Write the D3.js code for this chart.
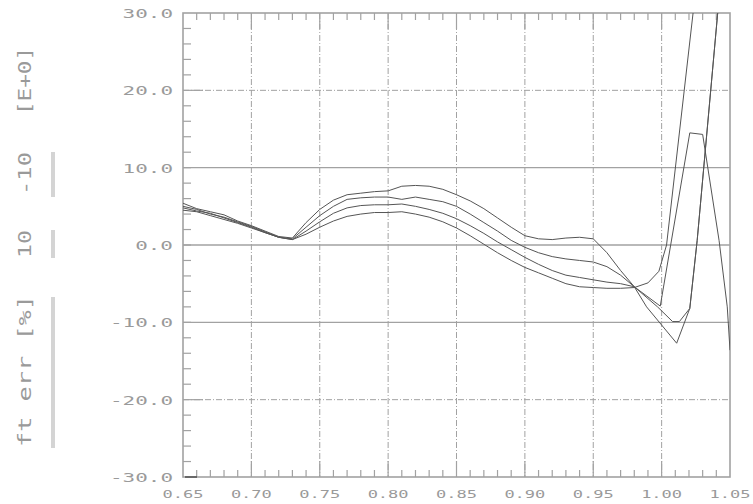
<!DOCTYPE html>
<html><head><meta charset="utf-8">
<script src="https://cdn.jsdelivr.net/npm/d3@7"></script>
<style>body{margin:0;background:#fff}</style>
</head><body><svg id="c" width="753" height="504"></svg>
<script>
// ---------- data ----------
const xTicks = [0.65, 0.70, 0.75, 0.80, 0.85, 0.90, 0.95, 1.00, 1.05];
const xTickLabels = ["0.65", "0.70", "0.75", "0.80", "0.85", "0.90", "0.95", "1.00", "1.05"];
const yTicks = [30, 20, 10, 0, -10, -20, -30];
const yTickLabels = ["30.0", "20.0", "10.0", "0.0", "-10.0", "-20.0", "-30.0"];
const titleParts = ["ft err [%]", "10", "-10", "[E+0]"];

const xs = [0.65,0.66,0.67,0.68,0.69,0.70,0.71,0.72,0.73,0.74,0.75,0.76,0.77,0.78,0.79,0.80,
            0.81,0.82,0.83,0.84,0.85,0.86,0.87,0.88,0.89,0.90,0.91,0.92,0.93,0.94,0.95,0.96,0.97,0.98];
const s1 = [5.4,4.7,4.3,3.9,3.1,2.5,1.8,1.1,0.9,2.9,4.6,5.8,6.5,6.7,6.9,7.0,
            7.6,7.7,7.6,7.2,6.5,5.7,4.7,3.5,2.3,1.2,0.8,0.7,0.9,1.0,0.8,-1.0,-3.3,-5.4];
const s2 = [5.0,4.6,4.0,3.6,3.0,2.4,1.7,1.0,0.8,2.3,3.8,5.0,5.9,6.1,6.2,6.2,
            5.9,6.2,5.9,5.6,5.0,4.0,2.9,1.8,0.6,-0.3,-1.0,-1.5,-1.8,-2.0,-2.2,-2.8,-3.9,-5.4];
const s3 = [4.8,4.4,4.1,3.5,2.9,2.3,1.6,1.0,0.7,1.8,3.0,4.1,4.8,5.1,5.2,5.2,
            5.3,5.0,4.6,4.1,3.4,2.5,1.5,0.4,-0.6,-1.6,-2.5,-3.3,-3.9,-4.2,-4.5,-4.8,-5.0,-5.4];
const s4 = [4.5,4.3,3.8,3.3,2.8,2.2,1.6,1.0,0.7,1.4,2.3,3.1,3.7,4.0,4.2,4.2,
            4.3,4.0,3.6,3.0,2.2,1.2,0.1,-1.0,-2.0,-2.9,-3.6,-4.3,-5.0,-5.4,-5.5,-5.6,-5.6,-5.5];
const s1tail = [[0.989,-8.0],[1.011,-12.7],[1.0206,-8.2],[1.026,0.6],[1.041,30],[1.045,36]];
const s2tail = [[0.997,-8.0],[1.008,-9.9],[1.013,-9.9],[1.0206,-8.2],[1.026,0.6],[1.041,30],[1.045,36]];
const s3tail = [[0.999,-7.9],[1.0206,14.5],[1.030,14.3],[1.042,0.6],[1.048,-8.0],[1.05,-13.6]];
const s4tail = [[0.99,-4.9],[0.998,-3.4],[1.0036,0.0],[1.023,30],[1.026,35]];

// ---------- layout ----------
const svg = d3.select("#c");
const L = 183, R = 730, T = 13, B = 477;
const x = d3.scaleLinear().domain([0.65, 1.05]).range([L, R]);
const y = d3.scaleLinear().domain([-30, 30]).range([B, T]);
const gridCol = "#a2a2a2", textCol = "#9a9a9a";

svg.append("rect").attr("width", 753).attr("height", 504).attr("fill", "#fff");
svg.append("defs").append("clipPath").attr("id", "clip")
  .append("rect").attr("x", L).attr("y", T).attr("width", R - L).attr("height", B - T);

const g = svg.append("g");
// vertical dashed grid
xTicks.slice(1, -1).forEach(v => {
  g.append("line").attr("x1", x(v)).attr("x2", x(v)).attr("y1", T).attr("y2", B)
    .attr("stroke", gridCol).attr("stroke-width", 1).attr("stroke-dasharray", "6,2,1,2");
});
// horizontal grid
yTicks.slice(1, -1).forEach(v => {
  const solid = (v === 10 || v === 0 || v === -10);
  g.append("line").attr("x1", L).attr("x2", R).attr("y1", y(v)).attr("y2", y(v))
    .attr("stroke", gridCol).attr("stroke-width", solid ? 1.3 : 1)
    .attr("stroke-dasharray", solid ? null : "6,2,1,2");
});

// x ticks (minor + major) on bottom and top
d3.range(66, 105).forEach(i => {
  const v = i / 100;
  const major = i % 5 === 0;
  const len = major ? 16 : 7;
  g.append("line").attr("x1", x(v)).attr("x2", x(v)).attr("y1", B).attr("y2", B - len)
    .attr("stroke", gridCol).attr("stroke-width", 1.2);
  g.append("line").attr("x1", x(v)).attr("x2", x(v)).attr("y1", T).attr("y2", T + len)
    .attr("stroke", gridCol).attr("stroke-width", 1.2);
});
// y ticks
d3.range(-28, 30, 2).forEach(v => {
  const len = (v === 20 || v === -20) ? 20 : 8;
  g.append("line").attr("x1", L).attr("x2", L + len).attr("y1", y(v)).attr("y2", y(v))
    .attr("stroke", gridCol).attr("stroke-width", 1.2);
});

// frame
svg.append("rect").attr("x", L).attr("y", T).attr("width", R - L).attr("height", B - T)
  .attr("fill", "none").attr("stroke", gridCol).attr("stroke-width", 1.6);
svg.append("line").attr("x1", L + 2).attr("x2", L + 14).attr("y1", B).attr("y2", B)
  .attr("stroke", "#555").attr("stroke-width", 1.6);

// curves
const line = d3.line().x(d => x(d[0])).y(d => y(d[1]));
const series = [[s1, s1tail], [s2, s2tail], [s3, s3tail], [s4, s4tail]];
const cg = svg.append("g").attr("clip-path", "url(#clip)");
series.forEach(([vals, tail]) => {
  const pts = xs.map((xv, i) => [xv, vals[i]]).concat(tail);
  cg.append("path").attr("d", line(pts)).attr("fill", "none")
    .attr("stroke", "#555").attr("stroke-width", 1);
});

// tick labels
const font = "'DejaVu Sans Mono', monospace";
xTicks.forEach((v, i) => {
  svg.append("text").attr("x", x(v)).attr("y", 498).attr("text-anchor", "middle")
    .attr("font-family", font).attr("font-size", 11).attr("fill", textCol)
    .attr("textLength", 41).attr("lengthAdjust", "spacingAndGlyphs")
    .text(xTickLabels[i]);
});
yTicks.forEach((v, i) => {
  const t = yTickLabels[i];
  svg.append("text").attr("x", 173).attr("y", y(v) + 5).attr("text-anchor", "end")
    .attr("font-family", font).attr("font-size", 12).attr("fill", textCol)
    .attr("textLength", 12.6 * t.length).attr("lengthAdjust", "spacingAndGlyphs")
    .text(t);
});

// axis title pieces (rotated), with gray bars
const tpos = [[447, 152], [258, 28], [195, 43], [115, 68]];
titleParts.forEach((t, i) => {
  svg.append("text").attr("transform", `translate(31,${tpos[i][0]}) rotate(-90)`)
    .attr("font-family", font).attr("font-size", 18).attr("fill", textCol)
    .attr("textLength", tpos[i][1]).attr("lengthAdjust", "spacingAndGlyphs")
    .text(t);
});
const bars = [[297, 448], [230, 258], [152, 197]];
bars.forEach(b => {
  svg.append("rect").attr("x", 51).attr("y", b[0]).attr("width", 4).attr("height", b[1] - b[0])
    .attr("fill", "#d4d4d4");
});
</script></body></html>
